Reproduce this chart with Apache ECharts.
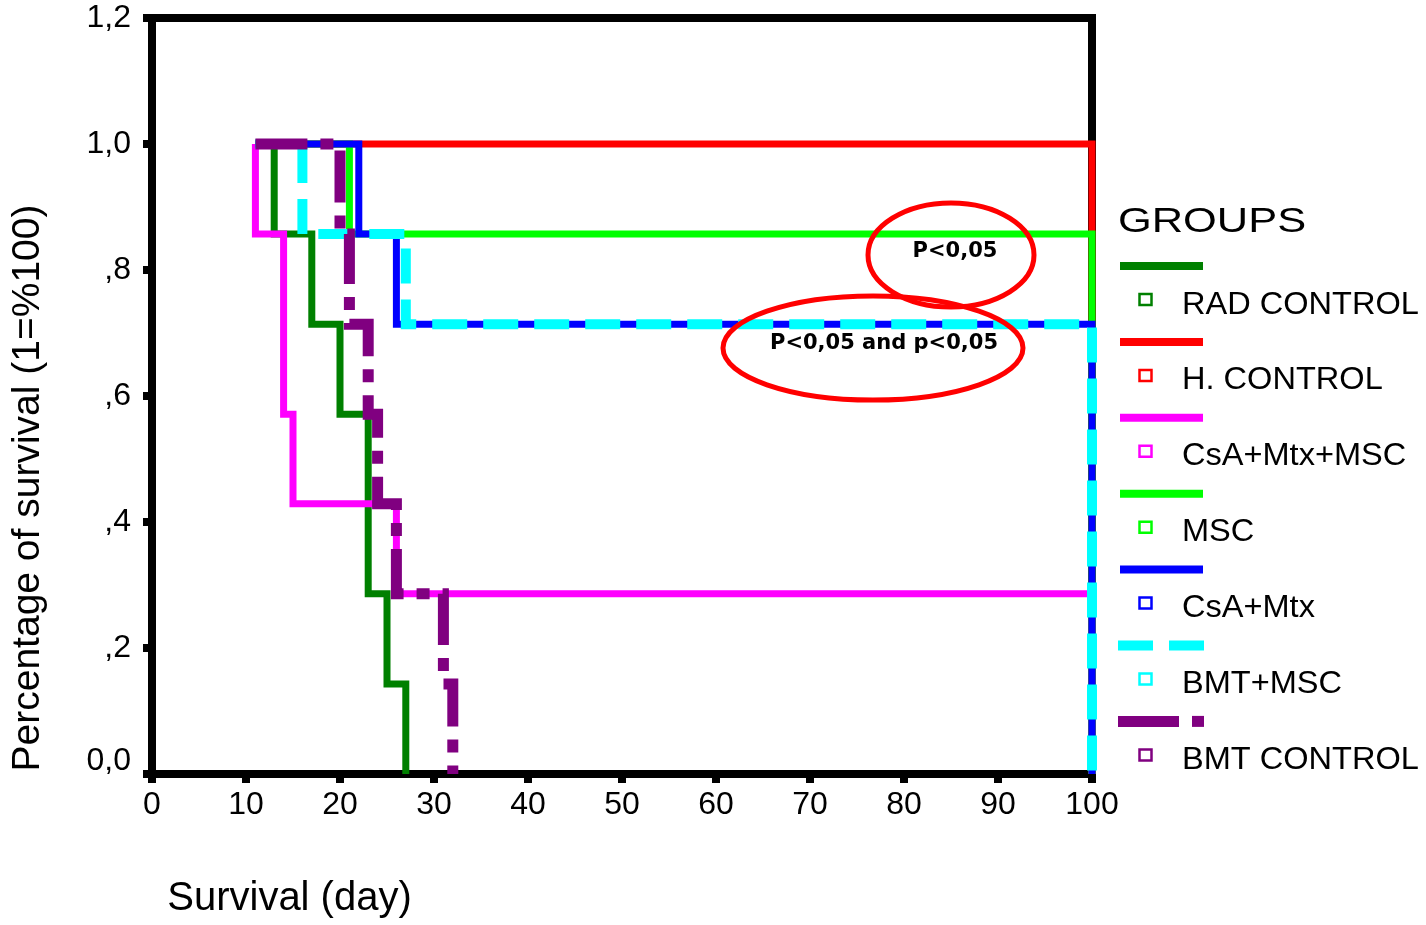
<!DOCTYPE html>
<html>
<head>
<meta charset="utf-8">
<script src="https://cdn.jsdelivr.net/npm/echarts@6/dist/echarts.min.js"></script>
<style>
html,body{margin:0;padding:0;background:#fff;}
#chart{width:1426px;height:925px;}
</style>
</head>
<body>
<div id="chart"></div>
<script>
// ---- data (Kaplan-Meier steps: day at which survival becomes the value) ----
const groupNames = ['RAD CONTROL', 'H. CONTROL', 'CsA+Mtx+MSC', 'MSC', 'CsA+Mtx', 'BMT+MSC', 'BMT CONTROL'];
const radDays = [11, 13, 17, 20, 23, 25, 27];
const radSurv = [1.000, 0.857, 0.714, 0.571, 0.286, 0.143, 0.000];
const hDays = [11, 100];
const hSurv = [1.000, 0.000];
const csaMscDays = [11, 11, 14, 15, 26, 100];
const csaMscSurv = [1.000, 0.857, 0.571, 0.429, 0.286, 0.000];
const mscDays = [11, 21, 100];
const mscSurv = [1.000, 0.857, 0.000];
const csaDays = [11, 22, 26, 100];
const csaSurv = [1.000, 0.857, 0.714, 0.000];
const bmtMscDays = [11, 16, 27, 100];
const bmtMscSurv = [1.000, 0.857, 0.714, 0.000];
const bmtDays = [11, 20, 21, 23, 24, 26, 31, 32];
const bmtSurv = [1.000, 0.857, 0.714, 0.571, 0.429, 0.286, 0.143, 0.000];
const xTickLabels = ['0', '10', '20', '30', '40', '50', '60', '70', '80', '90', '100'];
const yTickLabels = ['0,0', ',2', ',4', ',6', ',8', '1,0', '1,2'];

const colors = ['#008000', '#ff0000', '#ff00ff', '#00ff00', '#0000ff', '#00ffff', '#800080'];
const widths = [7, 7, 7, 7, 7, 10, 11];
const dashes = ['solid', 'solid', 'solid', 'solid', 'solid', [35, 16], [52, 13, 13, 13]];
const dayArrays = [radDays, hDays, csaMscDays, mscDays, csaDays, bmtMscDays, bmtDays];
const survArrays = [radSurv, hSurv, csaMscSurv, mscSurv, csaSurv, bmtMscSurv, bmtSurv];

const FONT = 'Liberation Sans, Arial, sans-serif';

const series = groupNames.map((name, i) => ({
  name: name,
  type: 'line',
  step: 'end',
  clip: false,
  symbol: 'none',
  silent: true,
  animation: false,
  data: dayArrays[i].map((d, k) => [d, survArrays[i][k]]),
  lineStyle: { color: colors[i], width: widths[i], type: dashes[i], cap: 'butt', join: 'miter' },
  z: 2 + i
}));

// legend drawn as graphic (line sample row + hollow square + label row)
const graphics = [];
graphics.push({
  type: 'text', x: 1118, y: 222, scaleX: 1.24, silent: true,
  style: { x: 0, y: 0, text: 'GROUPS', fontSize: 35, fontFamily: FONT, fill: '#000',
           textAlign: 'left', textVerticalAlign: 'middle', align: 'left', verticalAlign: 'middle' }
});
groupNames.forEach((name, i) => {
  const ly = 266 + 75.9 * i;
  if (i === 5) {
    graphics.push({ type: 'rect', silent: true, shape: { x: 1118, y: ly - 5, width: 35, height: 10 }, style: { fill: colors[i] } });
    graphics.push({ type: 'rect', silent: true, shape: { x: 1169, y: ly - 5, width: 35, height: 10 }, style: { fill: colors[i] } });
  } else if (i === 6) {
    graphics.push({ type: 'rect', silent: true, shape: { x: 1118, y: ly - 5.5, width: 61, height: 11 }, style: { fill: colors[i] } });
    graphics.push({ type: 'rect', silent: true, shape: { x: 1192, y: ly - 5.5, width: 12, height: 11 }, style: { fill: colors[i] } });
  } else {
    graphics.push({ type: 'rect', silent: true, shape: { x: 1120, y: ly - 4, width: 83, height: 8 }, style: { fill: colors[i] } });
  }
  const sy = 299.5 + 75.9 * i;
  graphics.push({ type: 'rect', silent: true, shape: { x: 1139.5, y: sy - 5.5, width: 12, height: 11 },
                  style: { fill: 'none', stroke: colors[i], lineWidth: 2.5 } });
  graphics.push({
    type: 'text', x: 1182, y: 305 + 75.9 * i, scaleX: 1.05, silent: true,
    style: { x: 0, y: 0, text: name, fontSize: 31, fontFamily: FONT, fill: '#000',
             textAlign: 'left', textVerticalAlign: 'middle', align: 'left', verticalAlign: 'middle' }
  });
});

// significance annotations
graphics.push({ type: 'ellipse', silent: true, shape: { cx: 951, cy: 255, rx: 83, ry: 52 },
                style: { fill: 'none', stroke: '#ff0000', lineWidth: 5 }, z: 50 });
graphics.push({ type: 'ellipse', silent: true, shape: { cx: 873, cy: 348, rx: 150, ry: 52 },
                style: { fill: 'none', stroke: '#ff0000', lineWidth: 5 }, z: 50 });
graphics.push({ type: 'text', silent: true, z: 51,
  style: { x: 955, y: 252, text: 'P<0,05', fontSize: 21, fontWeight: 'bold', fontFamily: 'DejaVu Sans, sans-serif', fill: '#000',
           textAlign: 'center', textVerticalAlign: 'middle', align: 'center', verticalAlign: 'middle' } });
graphics.push({ type: 'text', silent: true, z: 51,
  style: { x: 884, y: 344, text: 'P<0,05 and p<0,05', fontSize: 21, fontWeight: 'bold', fontFamily: 'DejaVu Sans, sans-serif', fill: '#000',
           textAlign: 'center', textVerticalAlign: 'middle', align: 'center', verticalAlign: 'middle' } });

const chart = echarts.init(document.getElementById('chart'), null, { renderer: 'canvas' });
chart.setOption({
  animation: false,
  backgroundColor: '#fff',
  grid: { left: 152, right: 334, top: 18, bottom: 151, show: true, borderColor: '#000', borderWidth: 8, backgroundColor: 'transparent', containLabel: false },
  xAxis: {
    type: 'value', min: 0, max: 100, interval: 10,
    name: 'Survival (day)', nameLocation: 'middle', nameGap: 105,
    nameTextStyle: { fontSize: 40, fontFamily: FONT, color: '#000', padding: [0, 665, 0, 0] },
    axisLine: { show: true, lineStyle: { color: '#000', width: 8 } },
    axisTick: { show: true, inside: false, length: 9, lineStyle: { color: '#000', width: 8 } },
    axisLabel: { margin: 15, fontSize: 32, fontFamily: FONT, color: '#000',
                 formatter: v => xTickLabels[Math.round(v / 10)] },
    splitLine: { show: false }
  },
  yAxis: {
    type: 'value', min: 0, max: 1.2, interval: 0.2,
    name: 'Percentage of survival (1=%100)', nameLocation: 'middle', nameGap: 104, nameRotate: 90,
    nameTextStyle: { fontSize: 39, fontFamily: FONT, color: '#000', padding: [0, 184, 0, 0] },
    axisLine: { show: true, lineStyle: { color: '#000', width: 8 } },
    axisTick: { show: true, inside: false, length: 9, lineStyle: { color: '#000', width: 8 } },
    axisLabel: { margin: 21, fontSize: 32, fontFamily: FONT, color: '#000',
                 formatter: v => { const k = Math.round(v / 0.2); return k === 0 ? '{z|' + yTickLabels[0] + '}' : yTickLabels[k]; },
                 rich: { z: { fontSize: 32, fontFamily: FONT, color: '#000', padding: [0, 0, 26, 0] } } },
    splitLine: { show: false }
  },
  series: series,
  graphic: graphics
});
</script>
</body>
</html>
